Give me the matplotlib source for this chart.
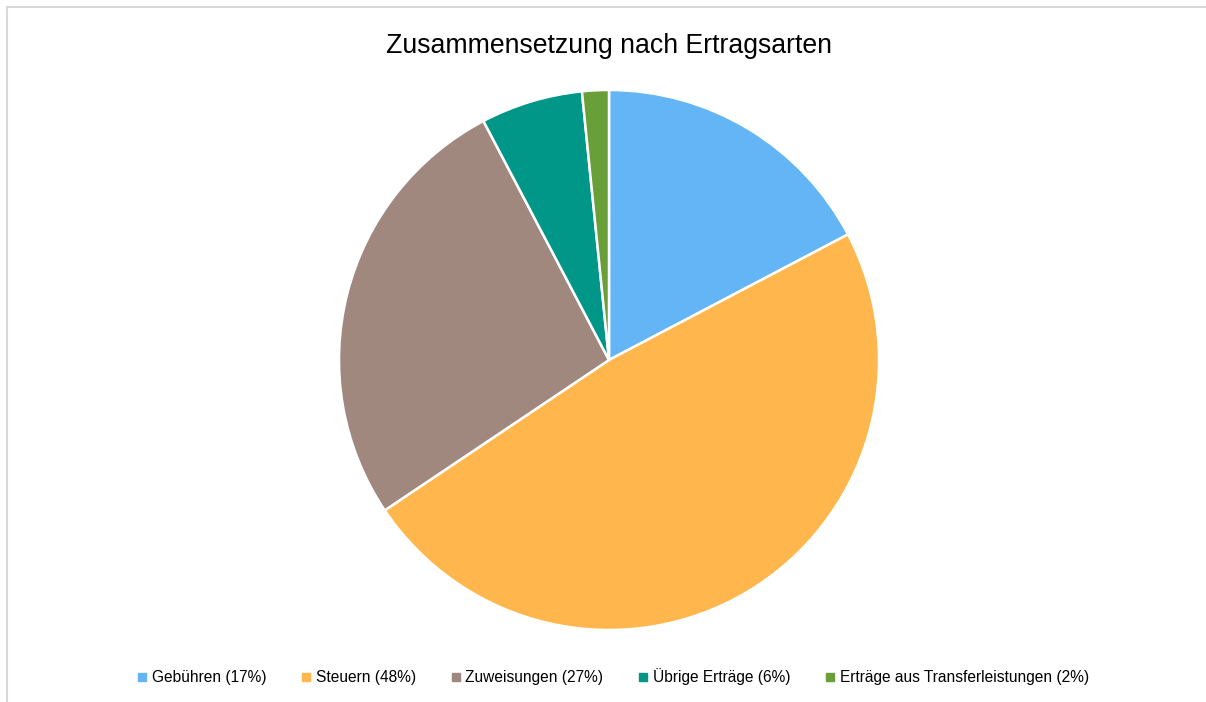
import matplotlib.pyplot as plt
from matplotlib.lines import Line2D

plt.rcParams['font.family'] = ['Liberation Sans', 'DejaVu Sans']

names = ["Gebühren", "Steuern", "Zuweisungen", "Übrige Erträge", "Erträge aus Transferleistungen"]
values = [17.3, 48.3, 26.7, 6.1, 1.6]
colors = ["#64B5F6", "#FFB74D", "#A1887F", "#009688", "#689F38"]

fig = plt.figure(figsize=(12.06, 7.02), dpi=100)

# pie area: 540x540 px centred at (609, 360)
ax = fig.add_axes([339 / 1206, 72 / 702, 540 / 1206, 540 / 702])
ax.pie(values, colors=colors, startangle=90, counterclock=False, radius=1,
       wedgeprops=dict(edgecolor="white", linewidth=1.8))
ax.set_xlim(-1, 1)
ax.set_ylim(-1, 1)
ax.set_aspect("equal")
ax.axis("off")

fig.text(609 / 1206, 1 - 46 / 702, "Zusammensetzung nach Ertragsarten",
         ha="center", va="center", fontsize=19.2, color="#000000")

total = sum(values)
labels = [f"{n} ({round(v / total * 100)}%)" for n, v in zip(names, values)]
handles = [Line2D([], [], marker="s", linestyle="", markersize=5.5,
                  markerfacecolor=c, markeredgecolor=c) for c in colors]
fig.legend(handles, labels, loc="center", bbox_to_anchor=(612 / 1206, 1 - 677 / 702),
           ncol=5, frameon=False, fontsize=11.2, handletextpad=0.15,
           columnspacing=2.13, handlelength=0.9)

# light grey frame (top and left edges visible)
fig.add_artist(Line2D([7 / 1206, 1], [1 - 7 / 702, 1 - 7 / 702], color="#D9D9D9",
                      linewidth=1.5, transform=fig.transFigure))
fig.add_artist(Line2D([7 / 1206, 7 / 1206], [0, 1 - 7 / 702], color="#D9D9D9",
                      linewidth=1.5, transform=fig.transFigure))

fig.savefig("out.png", dpi=100, facecolor="white")
